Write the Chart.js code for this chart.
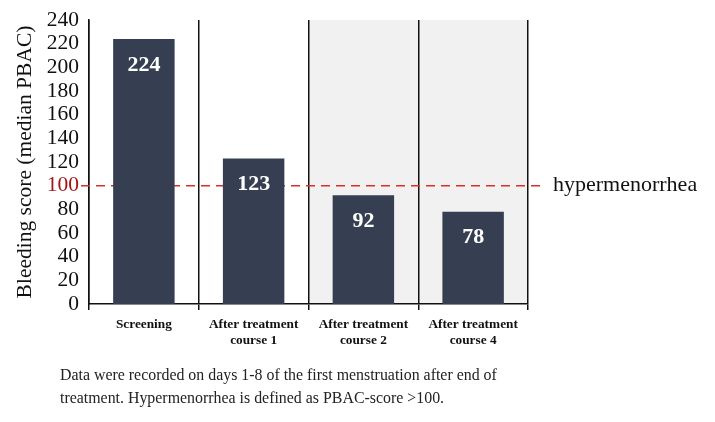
<!DOCTYPE html>
<html>
<head>
<meta charset="utf-8">
<script src="https://cdn.jsdelivr.net/npm/chart.js@4.4.0/dist/chart.umd.min.js"></script>
<style>
  html,body{margin:0;padding:0;background:#fff;}
  #wrap{position:relative;width:715px;height:422px;}
  #note{position:absolute;left:60px;top:363px;font-family:"Liberation Serif",serif;font-size:15.9px;line-height:23px;color:#222;}
</style>
</head>
<body>
<div id="wrap">
  <canvas id="bleedChart" width="715" height="422"></canvas>
  <div id="note">Data were recorded on days 1-8 of the first menstruation after end of<br>treatment. Hypermenorrhea is defined as PBAC-score &gt;100.</div>
</div>
<script>
    const categories=[["Screening"],["After treatment","course 1"],["After treatment","course 2"],["After treatment","course 4"]];
    const scores=[224,123,92,78];
    const yTicks=[0,20,40,60,80,100,120,140,160,180,200,220,240];
    const threshold=100;
    const thresholdLabel="hypermenorrhea";
    const shadedCategories=[2,3];

    const serif="'Liberation Serif', 'DejaVu Serif', serif";

    // grey background behind the later courses (drawn before grid lines)
    const shadePlugin={
        id: "shade",
        beforeDraw(chart) {
            const {ctx,chartArea,scales}=chart;
            const x=scales.x;
            const step=x.getPixelForValue(1)-x.getPixelForValue(0);
            ctx.save();
            ctx.fillStyle="#f1f1f1";
            shadedCategories.forEach(function(i) {
                const c=x.getPixelForValue(i);
                ctx.fillRect(c-step/2,chartArea.top,step,chartArea.bottom-chartArea.top);
            });
            ctx.restore();
        },
    };

    // dashed threshold line behind the bars
    const thresholdPlugin={
        id: "threshold",
        beforeDatasetsDraw(chart) {
            const {ctx,chartArea,scales}=chart;
            const y=scales.y.getPixelForValue(threshold);
            ctx.save();
            ctx.strokeStyle="#d9302c";
            ctx.lineWidth=1.5;
            ctx.setLineDash([9,6]);
            ctx.beginPath();
            ctx.moveTo(chartArea.left-8,y);
            ctx.lineTo(chartArea.right+18,y);
            ctx.stroke();
            ctx.setLineDash([]);
            ctx.fillStyle="#111";
            ctx.font="22px "+serif;
            ctx.textBaseline="middle";
            ctx.textAlign="left";
            ctx.fillText(thresholdLabel,chartArea.right+25,y);
            ctx.restore();
        },
    };

    // values inside the bars
    const valuePlugin={
        id: "values",
        afterDatasetsDraw(chart) {
            const ctx=chart.ctx;
            const meta=chart.getDatasetMeta(0);
            ctx.save();
            ctx.fillStyle="#fff";
            ctx.font="bold 22px "+serif;
            ctx.textAlign="center";
            ctx.textBaseline="middle";
            meta.data.forEach(function(bar,i) {
                ctx.fillText(String(scores[i]),bar.x,bar.y+26);
            });
            ctx.restore();
        },
    };

    const ctxBleed=document.getElementById("bleedChart").getContext("2d");
    const bleedChart=new Chart(ctxBleed,{
        type: "bar",
        data: {
            labels: categories,
            datasets: [{
                label: "Bleeding score",
                data: scores,
                backgroundColor: "#353f51",
                borderWidth: 0,
                barPercentage: 0.56,
                categoryPercentage: 1,
            }],
        },
        options: {
            responsive: false,
            animation: false,
            layout: {
                padding: {top: 20, right: 187, bottom: 0, left: 12},
            },
            plugins: {
                legend: {display: false},
                tooltip: {enabled: false},
            },
            scales: {
                x: {
                    grid: {
                        offset: true,
                        color: "#111",
                        lineWidth: 1.5,
                        drawTicks: true,
                        tickLength: 6,
                    },
                    border: {color: "#111", width: 1.5},
                    ticks: {
                        color: "#111",
                        font: {family: serif, size: 13.3, weight: "bold"},
                        padding: 7,
                        maxRotation: 0,
                    },
                    afterFit(scale) {
                        scale.height=118;
                    },
                },
                y: {
                    min: 0,
                    max: 240,
                    afterBuildTicks(scale) {
                        scale.ticks=yTicks.map(function(v) { return {value: v}; });
                    },
                    grid: {display: false},
                    border: {color: "#111", width: 1.5},
                    ticks: {
                        autoSkip: false,
                        color: function(c) { return c.tick.value===threshold ? "#a31515" : "#111"; },
                        font: {family: serif, size: 21.5},
                        padding: 2,
                    },
                    title: {
                        display: true,
                        text: "Bleeding score (median PBAC)",
                        color: "#111",
                        font: {family: serif, size: 21.5},
                        padding: {top: 0, bottom: 2},
                    },
                    afterFit(scale) {
                        scale.width=77;
                    },
                },
            },
        },
        plugins: [shadePlugin,thresholdPlugin,valuePlugin],
    });
</script>
</body>
</html>
